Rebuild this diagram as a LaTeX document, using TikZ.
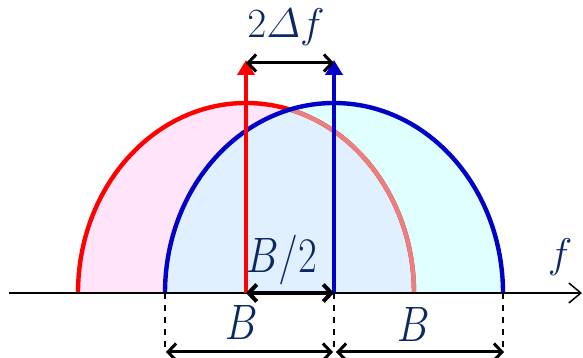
\documentclass[tikz,border=0pt]{standalone}
\usepackage{amsmath}
\usepackage{xcolor}
\usetikzlibrary{arrows.meta}

\definecolor{sigred}{RGB}{255,0,0}
\definecolor{sigblue}{RGB}{0,0,200}
\definecolor{pinkfill}{RGB}{255,228,250}
\definecolor{cyanfill}{RGB}{224,255,255}
\definecolor{mixfill}{RGB}{225,240,255}
\definecolor{salmonline}{RGB}{232,128,128}
\definecolor{labelnavy}{RGB}{12,40,100}

\tikzset{
  dimarrow/.style={{Straight Barb[length=4pt,width=8.5pt]}-{Straight Barb[length=4pt,width=8.5pt]}, line width=1.5pt},
  carrier/.style={-{Triangle[length=7.5pt,width=8.5pt]}, line width=2pt},
  lobe/.style={line width=2.2pt},
  lbl/.style={text=labelnavy, inner sep=0pt, anchor=base, font=\fontsize{24.88}{28}\selectfont},
  bwlbl/.style={lbl, xscale=0.82}
}

\begin{document}
\begin{tikzpicture}[x=0.5pt, y=0.5pt]
    \useasboundingbox (0,0) rectangle (583,358);

    % Points on the axis
    \coordinate (rc) at (246,65);
    \coordinate (bc) at (334,65);
    \coordinate (bl) at (165,65);
    \coordinate (br) at (503,65);
    \coordinate (ax0) at (9,65);
    \coordinate (ax1) at (582,65);

    % Shaded lobes
    \fill[pinkfill] (78,65) arc[start angle=180, end angle=0, x radius=168, y radius=190] -- cycle;
    \fill[cyanfill] (165,65) arc[start angle=180, end angle=0, x radius=169, y radius=190] -- cycle;
    \begin{scope}
        \clip (78,65) arc[start angle=180, end angle=0, x radius=168, y radius=190] -- cycle;
        \fill[mixfill] (165,65) arc[start angle=180, end angle=0, x radius=169, y radius=190] -- cycle;
    \end{scope}

    % Lobe outlines
    \draw[lobe, sigred] (78,65) arc[start angle=180, end angle=0, x radius=168, y radius=190];
    \begin{scope}
        \clip (165,65) arc[start angle=180, end angle=0, x radius=169, y radius=190] -- cycle;
        \draw[lobe, salmonline] (78,65) arc[start angle=180, end angle=0, x radius=168, y radius=190];
    \end{scope}
    \draw[lobe, sigblue] (165,65) arc[start angle=180, end angle=0, x radius=169, y radius=190];

    % Frequency axis
    \draw[line width=0.75pt, -{Straight Barb[length=6pt,width=10pt]}] (ax0) -- (ax1);
    \node[lbl, font=\fontsize{20.74}{24}\selectfont] (flbl) at (560,90) {$f$};

    % Dashed guides
    \coordinate (blb) at (165,10);
    \coordinate (bcb) at (334,6);
    \coordinate (brb) at (503,6);
    \draw[dashed, line width=0.6pt] (bl) -- (blb);
    \draw[dashed, line width=0.6pt] (bc) -- (bcb);
    \draw[dashed, line width=0.6pt] (br) -- (brb);

    % Carriers
    \coordinate (rt) at (246,298);
    \coordinate (bt) at (334,298);
    \draw[carrier, sigred] (rc) -- (rt);
    \draw[carrier, sigblue] (bc) -- (bt);

    % Spacing arrows
    \coordinate (sr) at (246,295);
    \coordinate (sb) at (334,295);
    \draw[dimarrow] (sr) -- (sb);
    \node[lbl, font=\fontsize{20.74}{24}\selectfont] (shiftlbl) at (286,320) {$2\varDelta f$};

    \draw[dimarrow, line width=2pt] (rc) -- (bc);
    \node[bwlbl] (halflbl) at (282,85) {$B/2$};

    \coordinate (d1) at (166,6);
    \coordinate (d2) at (333,6);
    \coordinate (d3) at (336,6);
    \coordinate (d4) at (504,6);
    \draw[dimarrow] (d1) -- (d2);
    \draw[dimarrow] (d3) -- (d4);
    \node[bwlbl] (bwleft) at (242,18) {$B$};
    \node[bwlbl] (bwright) at (414,16) {$B$};
\end{tikzpicture}
\end{document}
